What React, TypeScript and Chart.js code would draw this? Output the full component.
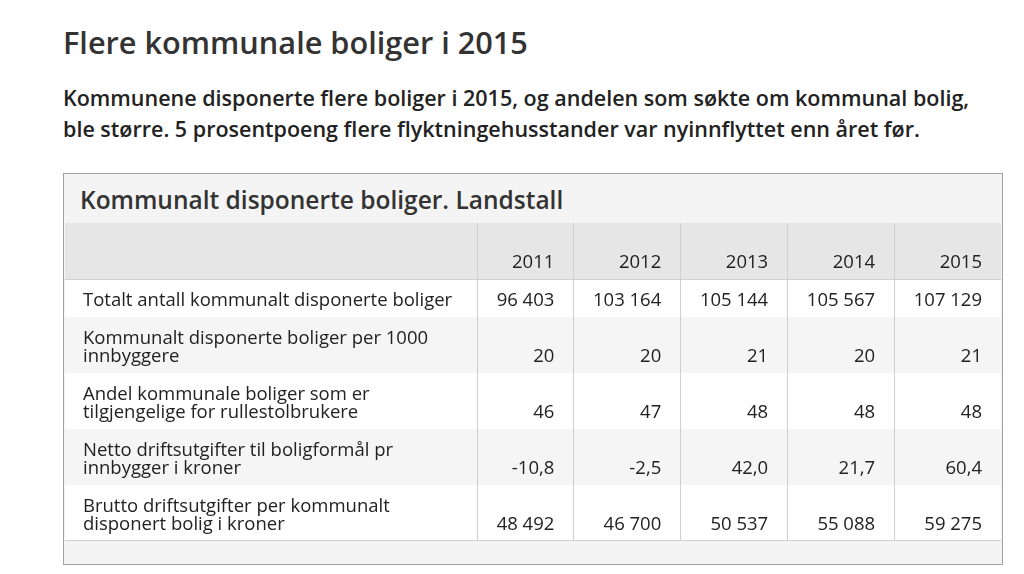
import React, { useEffect, useRef } from "react";
import { Chart, registerables } from "chart.js";

Chart.register(...registerables);

const TITLE = "Flere kommunale boliger i 2015";
const SUBTITLE_LINES = [
  "Kommunene disponerte flere boliger i 2015, og andelen som søkte om kommunal bolig,",
  "ble større. 5 prosentpoeng flere flyktningehusstander var nyinnflyttet enn året før.",
];
const TABLE_TITLE = "Kommunalt disponerte boliger. Landstall";

const years = ["2011", "2012", "2013", "2014", "2015"];
const rowLabels: string[][] = [
  ["Totalt antall kommunalt disponerte boliger"],
  ["Kommunalt disponerte boliger per 1000", "innbyggere"],
  ["Andel kommunale boliger som er", "tilgjengelige for rullestolbrukere"],
  ["Netto driftsutgifter til boligformål pr", "innbygger i kroner"],
  ["Brutto driftsutgifter per kommunalt", "disponert bolig i kroner"],
];
const totaltBoliger = [96403, 103164, 105144, 105567, 107129];
const boligerPer1000 = [20, 20, 21, 20, 21];
const andelRullestol = [46, 47, 48, 48, 48];
const nettoDrift = [-10.8, -2.5, 42.0, 21.7, 60.4];
const bruttoDrift = [48492, 46700, 50537, 55088, 59275];
const rowDecimals = [0, 0, 0, 1, 0];
const rowValues = [totaltBoliger, boligerPer1000, andelRullestol, nettoDrift, bruttoDrift];

// layout constants
const FONT = "18.5px 'Open Sans'";
const LINE = 18;
const ROW_PAD = 20;
const HEADER_H = 56;
const FOOTER_H = 23;
const LABEL_COL_W = 412;
const CANVAS_W = 936;
const DATA_W = CANVAS_W - LABEL_COL_W;

const rowHeights = rowLabels.map((l) => Math.max(1, l.length) * LINE + ROW_PAD);
const TOTAL_UNITS = HEADER_H + rowHeights.reduce((a, b) => a + b, 0) + FOOTER_H;

function fmt(v: number, d: number): string {
  const s = Math.abs(v).toFixed(d);
  const [i, f] = s.split(".");
  const g = i.replace(/\B(?=(\d{3})+(?!\d))/g, " ");
  return (v < 0 ? "-" : "") + g + (f ? "," + f : "");
}

// Column edges like an auto-layout table: content width + equal share of the rest
function columnEdges(ctx: CanvasRenderingContext2D): number[] {
  ctx.save();
  ctx.font = FONT;
  const widths = years.map((yr, i) => {
    let w = ctx.measureText(yr).width;
    rowValues.forEach((vals, r) => {
      w = Math.max(w, ctx.measureText(fmt(vals[i], rowDecimals[r])).width);
    });
    return w;
  });
  ctx.restore();
  const sum = widths.reduce((a, b) => a + b, 0);
  const extra = (DATA_W - sum) / years.length;
  const edges = [0];
  widths.forEach((w) => edges.push(edges[edges.length - 1] + w + extra));
  return edges;
}

function makePlugin(edges: number[]) {
  return {
    id: "tableCells",
    beforeDraw(chart: any) {
      const { ctx, width } = chart;
      const x = chart.scales.x;
      const y = chart.scales.y;
      const n = years.length;
      const colLeft = (i: number) => x.getPixelForValue(edges[i]);
      const colRight = (i: number) => x.getPixelForValue(edges[i + 1]);

      ctx.save();
      const hTop = y.getPixelForValue(0);
      const hBot = y.getPixelForValue(HEADER_H);
      ctx.fillStyle = "#e6e6e6";
      ctx.fillRect(0, hTop, width, hBot - hTop);

      let u = HEADER_H;
      const bounds: [number, number][] = [];
      rowHeights.forEach((h, r) => {
        const t = y.getPixelForValue(u);
        const b = y.getPixelForValue(u + h);
        bounds.push([t, b]);
        ctx.fillStyle = r % 2 === 1 ? "#f5f5f5" : "#ffffff";
        ctx.fillRect(0, t, width, b - t);
        u += h;
      });
      const fTop = y.getPixelForValue(u);
      const fBot = y.getPixelForValue(u + FOOTER_H);
      ctx.fillStyle = "#f4f4f4";
      ctx.fillRect(0, fTop, width, fBot - fTop);

      ctx.strokeStyle = "#cfcfcf";
      ctx.lineWidth = 1;
      ctx.beginPath();
      ctx.moveTo(0, Math.round(hBot) + 0.5);
      ctx.lineTo(width, Math.round(hBot) + 0.5);
      ctx.moveTo(0, Math.round(fTop) - 0.5);
      ctx.lineTo(width, Math.round(fTop) - 0.5);
      for (let i = 0; i < n; i++) {
        const lx = Math.round(colLeft(i)) + 0.5;
        ctx.moveTo(lx, hTop);
        ctx.lineTo(lx, fTop);
      }
      ctx.stroke();

      ctx.font = FONT;
      ctx.fillStyle = "#222";
      ctx.textBaseline = "middle";
      ctx.textAlign = "right";
      years.forEach((yr, i) => {
        ctx.fillText(yr, colRight(i) - 19, hBot - 16);
      });
      rowLabels.forEach((lines, r) => {
        const [t, b] = bounds[r];
        ctx.textAlign = "left";
        lines.forEach((ln, k) => ctx.fillText(ln, 18, t + 22 + k * LINE));
        ctx.textAlign = "right";
        rowValues[r].forEach((v, i) => {
          ctx.fillText(fmt(v, rowDecimals[r]), colRight(i) - 19, b - 16);
        });
      });
      ctx.restore();
    },
  };
}

function TableChart() {
  const ref = useRef<HTMLCanvasElement | null>(null);
  useEffect(() => {
    if (!ref.current) return;
    const c2d = ref.current.getContext("2d") as CanvasRenderingContext2D;
    const edges = columnEdges(c2d);
    const chart = new Chart(ref.current, {
      type: "scatter",
      data: { datasets: [{ data: [] as { x: number; y: number }[] }] },
      options: {
        responsive: false,
        animation: false,
        devicePixelRatio: 1,
        layout: { padding: { left: LABEL_COL_W, right: 0, top: 0, bottom: 0 } },
        scales: {
          x: { type: "linear", min: 0, max: DATA_W, offset: false, display: false },
          y: { type: "linear", min: 0, max: TOTAL_UNITS, reverse: true, offset: false, display: false },
        },
        plugins: { legend: { display: false }, tooltip: { enabled: false }, title: { display: false } },
      },
      plugins: [makePlugin(edges)],
    } as any);
    return () => chart.destroy();
  }, []);
  return <canvas ref={ref} width={CANVAS_W} height={TOTAL_UNITS} style={{ display: "block", width: CANVAS_W, height: TOTAL_UNITS }} />;
}

export default function App() {
  return (
    <div style={{ position: "relative", width: 1008, height: 558, fontFamily: "'Open Sans', sans-serif" }}>
      <div style={{ position: "absolute", left: 55, top: 16, fontSize: 30.7, lineHeight: "36px", fontWeight: 600, color: "#333", whiteSpace: "nowrap" }}>
        {TITLE}
      </div>
      <div style={{ position: "absolute", left: 55, top: 74, fontSize: 21.5, lineHeight: "31px", fontWeight: 600, color: "#222", whiteSpace: "nowrap" }}>
        {SUBTITLE_LINES.map((l, i) => (
          <div key={i}>{l}</div>
        ))}
      </div>
      <div style={{ position: "absolute", left: 55, top: 165, width: 940, boxSizing: "border-box", border: "1px solid #a0a0a0", background: "#f4f4f4", padding: "0 1px 0 1px" }}>
        <div style={{ height: 47, paddingTop: 2, paddingLeft: 15, fontSize: 24.5, lineHeight: "47px", fontWeight: 600, color: "#333", whiteSpace: "nowrap" }}>
          {TABLE_TITLE}
        </div>
        <TableChart />
      </div>
    </div>
  );
}
